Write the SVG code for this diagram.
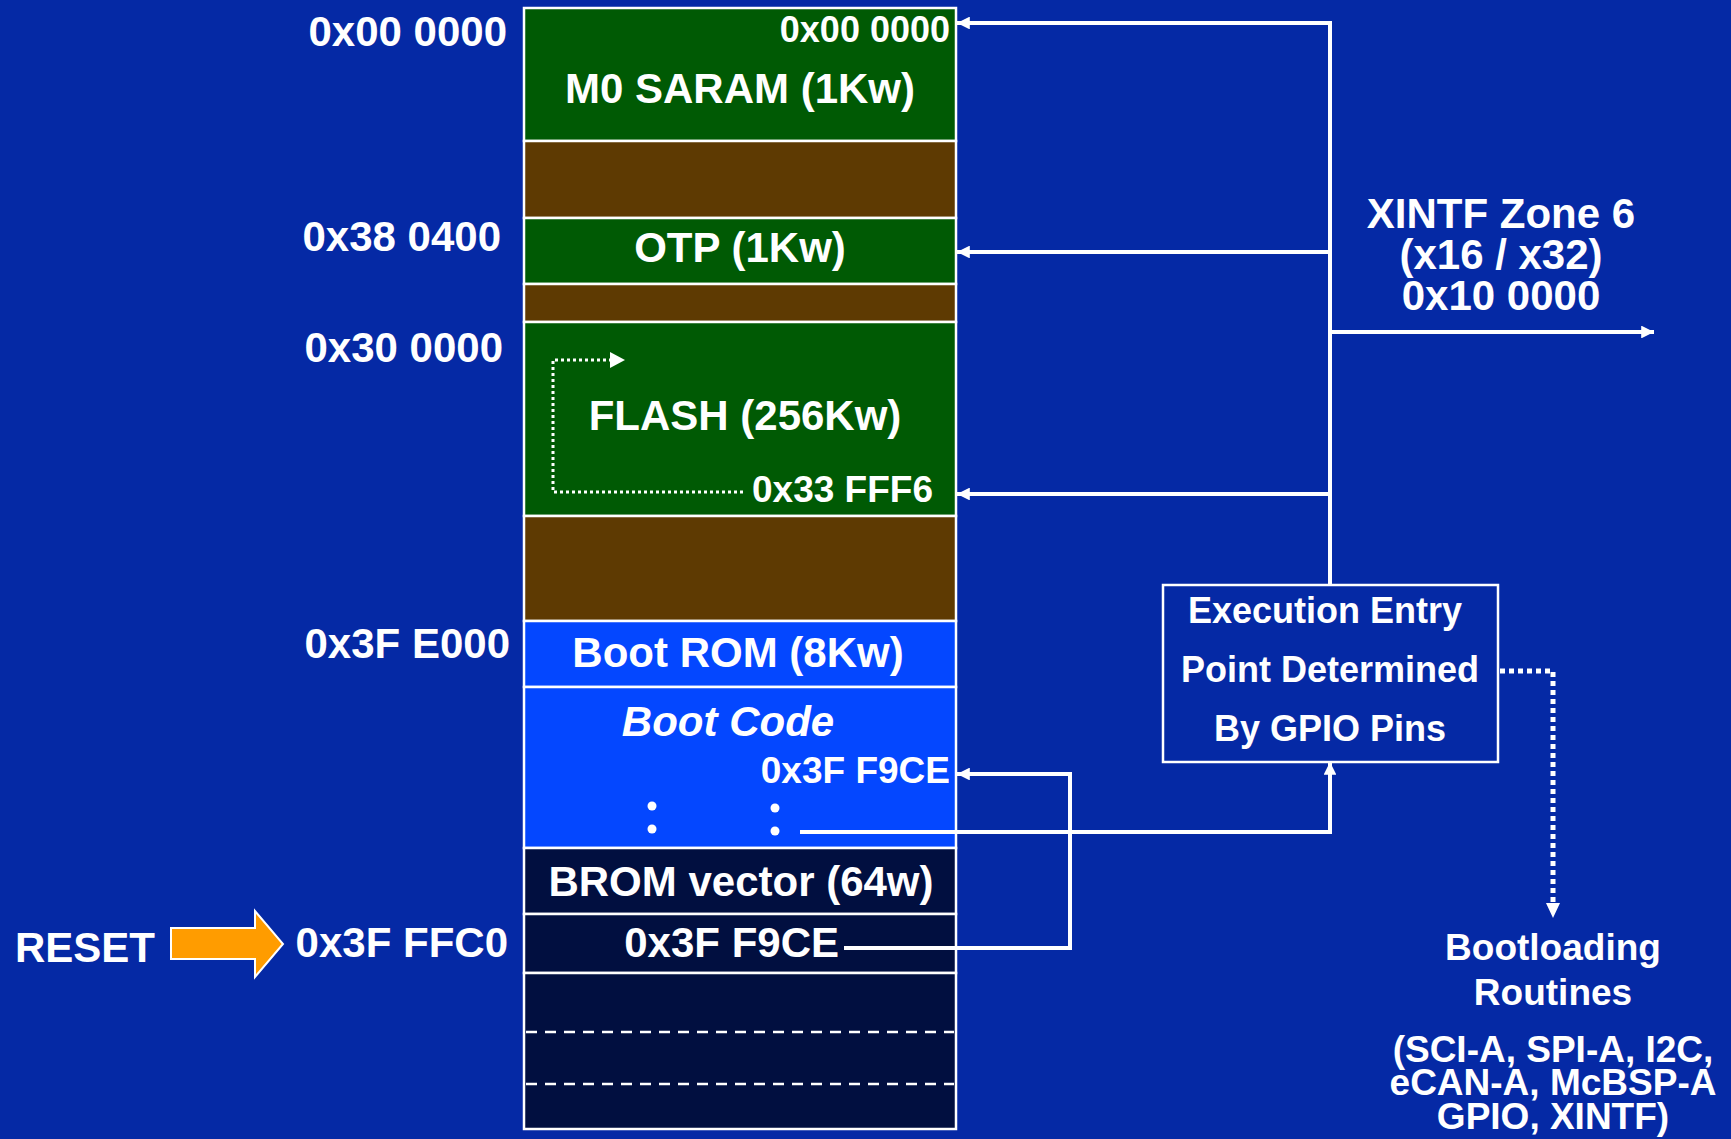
<svg xmlns="http://www.w3.org/2000/svg" width="1731" height="1139" viewBox="0 0 1731 1139">
<style>
text{font-family:"Liberation Sans",Arial,sans-serif;font-weight:bold;fill:#fff}
.lbl{font-size:42px;text-anchor:end}
.c{text-anchor:middle}
.band{stroke:#fff;stroke-width:2.5}
.green{fill:#005A04}
.brown{fill:#5E3A02}
.rom{fill:#0447FF}
.dark{fill:#010F40}
.wire{fill:none;stroke:#fff;stroke-width:4}
.dot{fill:none;stroke:#fff;stroke-width:3;stroke-dasharray:3 3}
</style>
<defs>
<marker id="ah" viewBox="0 0 10 10" refX="10" refY="5" markerWidth="3.2" markerHeight="3.2" orient="auto" markerUnits="strokeWidth">
<path d="M0,0 L10,5 L0,10 z" fill="#fff"/>
</marker>
</defs>
<rect width="1731" height="1139" fill="#0529A5"/>

<g id="addr-labels">
<text class="lbl" x="507" y="46">0x00 0000</text>
<text class="lbl" x="501" y="251">0x38 0400</text>
<text class="lbl" x="503" y="362">0x30 0000</text>
<text class="lbl" x="510" y="658">0x3F E000</text>
<text class="lbl" x="508" y="957">0x3F FFC0</text>
</g>

<g id="reset">
<text x="15" y="962" font-size="42">RESET</text>
<path d="M171,928 L255,928 L255,911 L283,944 L255,977 L255,959 L171,959 Z" fill="#FF9C00" stroke="#fff" stroke-width="2"/>
</g>

<g id="m0-saram">
<rect class="band green" x="524" y="8" width="432" height="133"/>
<text x="950" y="42" font-size="36" text-anchor="end">0x00 0000</text>
<text class="c" x="740" y="103" font-size="42">M0 SARAM (1Kw)</text>
</g>
<g id="reserved-1"><rect class="band brown" x="524" y="141" width="432" height="77"/></g>
<g id="otp">
<rect class="band green" x="524" y="218" width="432" height="66"/>
<text class="c" x="740" y="262" font-size="42">OTP (1Kw)</text>
</g>
<g id="reserved-2"><rect class="band brown" x="524" y="284" width="432" height="38"/></g>
<g id="flash">
<rect class="band green" x="524" y="322" width="432" height="194"/>
<text class="c" x="745" y="430" font-size="42">FLASH (256Kw)</text>
<text x="933" y="502" font-size="37" text-anchor="end">0x33 FFF6</text>
<path class="dot" d="M743,492 L553,492 L553,360 L612,360"/>
<path d="M610,352 L625,360 L610,368 Z" fill="#fff"/>
</g>
<g id="reserved-3"><rect class="band brown" x="524" y="516" width="432" height="105"/></g>
<g id="boot-rom">
<rect class="band rom" x="524" y="621" width="432" height="66"/>
<text class="c" x="738" y="667" font-size="42">Boot ROM (8Kw)</text>
</g>
<g id="boot-code">
<rect class="band rom" x="524" y="687" width="432" height="161"/>
<text class="c" x="728" y="736" font-size="42" font-style="italic">Boot Code</text>
<text x="950" y="783" font-size="37" text-anchor="end">0x3F F9CE</text>
<circle cx="652" cy="806" r="4.5" fill="#fff"/>
<circle cx="652" cy="829" r="4.5" fill="#fff"/>
<circle cx="775" cy="808" r="4.5" fill="#fff"/>
<circle cx="775" cy="831" r="4.5" fill="#fff"/>
</g>
<g id="brom-vector">
<rect class="band dark" x="524" y="848" width="432" height="66"/>
<text class="c" x="741" y="896" font-size="42">BROM vector (64w)</text>
</g>
<g id="reset-vector">
<rect class="band dark" x="524" y="914" width="432" height="59"/>
<text x="839" y="957" font-size="42" text-anchor="end">0x3F F9CE</text>
</g>
<g id="vectors">
<rect class="band dark" x="524" y="973" width="432" height="156"/>
<line x1="526" y1="1032" x2="954" y2="1032" stroke="#fff" stroke-width="2.5" stroke-dasharray="11 8"/>
<line x1="526" y1="1084" x2="954" y2="1084" stroke="#fff" stroke-width="2.5" stroke-dasharray="11 8"/>
</g>

<g id="xintf-label">
<text class="c" x="1501" y="228" font-size="42">XINTF Zone 6</text>
<text class="c" x="1501" y="269" font-size="42">(x16 / x32)</text>
<text class="c" x="1501" y="310" font-size="42">0x10 0000</text>
</g>

<g id="entry-box">
<rect x="1163" y="585" width="335" height="177" fill="none" stroke="#fff" stroke-width="2.5"/>
<text class="c" x="1325" y="623" font-size="36">Execution Entry</text>
<text class="c" x="1330" y="682" font-size="36">Point Determined</text>
<text class="c" x="1330" y="741" font-size="36">By GPIO Pins</text>
</g>

<g id="bootloading">
<text class="c" x="1553" y="960" font-size="37">Bootloading</text>
<text class="c" x="1553" y="1005" font-size="37">Routines</text>
<text class="c" x="1553" y="1062" font-size="37">(SCI-A, SPI-A, I2C,</text>
<text class="c" x="1553" y="1095" font-size="37">eCAN-A, McBSP-A</text>
<text class="c" x="1553" y="1129" font-size="37">GPIO, XINTF)</text>
</g>

<g id="connectors">
<path class="wire" d="M1330,585 L1330,23"/>
<path class="wire" d="M1332,23 L957,23" marker-end="url(#ah)"/>
<path class="wire" d="M1330,252 L957,252" marker-end="url(#ah)"/>
<path class="wire" d="M1330,494 L957,494" marker-end="url(#ah)"/>
<path class="wire" d="M1330,332 L1654,332" marker-end="url(#ah)"/>
<path class="wire" d="M800,832 L1330,832 L1330,762" marker-end="url(#ah)"/>
<path class="wire" d="M844,948 L1070,948 L1070,774 L957,774" marker-end="url(#ah)"/>
<path d="M1500,671 L1553,671 L1553,904" fill="none" stroke="#fff" stroke-width="5" stroke-dasharray="5 4"/>
<path d="M1546,903 L1553,918 L1560,903 Z" fill="#fff"/>
</g>
</svg>
